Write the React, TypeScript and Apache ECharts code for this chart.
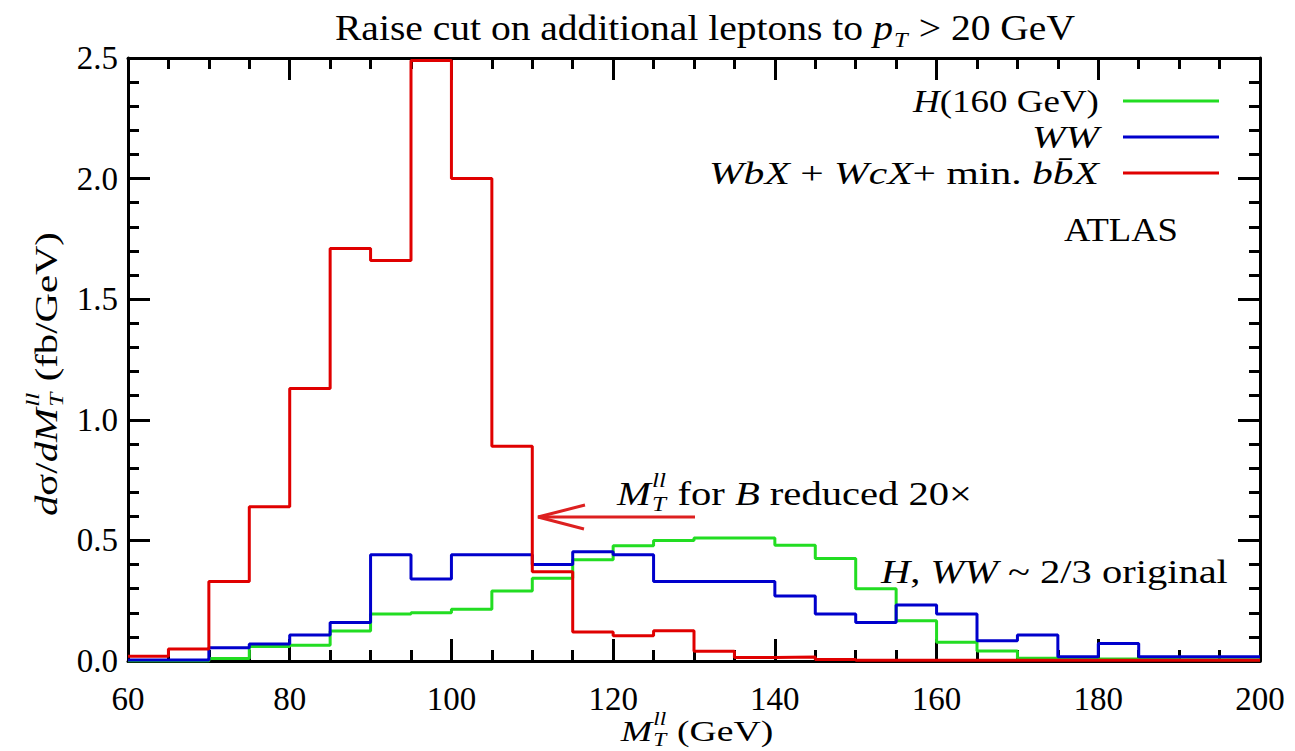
import React, { useEffect, useRef } from "react";
import * as echarts from "echarts";

// ---- data (bin lower edges, 5 GeV bins) ----
const binStarts = [60, 65, 70, 75, 80, 85, 90, 95, 100, 105, 110, 115, 120, 125, 130, 135, 140, 145, 150, 155, 160, 165, 170, 175, 180, 185, 190, 195];
const binEnd = 200;
const higgs160 = [0, 0, 0.01, 0.06, 0.065, 0.124, 0.195, 0.2, 0.215, 0.29, 0.343, 0.42, 0.478, 0.5, 0.51, 0.51, 0.48, 0.425, 0.3, 0.167, 0.078, 0.041, 0.011, 0.008, 0.008, 0.006, 0.005, 0.005];
const wwBkg = [0.004, 0.004, 0.055, 0.07, 0.108, 0.16, 0.44, 0.34, 0.44, 0.44, 0.4, 0.453, 0.44, 0.33, 0.33, 0.33, 0.27, 0.195, 0.16, 0.232, 0.195, 0.084, 0.108, 0.018, 0.073, 0.018, 0.018, 0.018];
const wbxBkg = [0.02, 0.05, 0.33, 0.64, 1.13, 1.71, 1.66, 2.49, 2.0, 0.89, 0.37, 0.12, 0.105, 0.125, 0.04, 0.015, 0.017, 0.006, 0.003, 0.003, 0.003, 0.003, 0.003, 0.003, 0.003, 0.003, 0.003, 0.003];
const seriesNames = ["H(160 GeV)", "WW", "WbX + WcX + min. bb̄X"];
const seriesColors = ["#22dd22", "#0000cc", "#e00000"];
const xMin = 60, xMax = 200, xStep = 20;
const yMin = 0, yMax = 2.5, yStep = 0.5;

const FONT = "Liberation Serif, DejaVu Serif, serif";

type Piece = { t: string; it?: boolean; sub?: string; sup?: string };

let measureCtx: CanvasRenderingContext2D | null = null;
function measure(text: string, size: number, italic: boolean) {
  if (!measureCtx) measureCtx = document.createElement("canvas").getContext("2d");
  measureCtx!.font = `${italic ? "italic " : ""}${size}px ${FONT}`;
  return measureCtx!.measureText(text).width;
}

function mathGroup(pieces: Piece[], size: number, x: number, y: number, anchor: "left" | "center" | "right", targetWidth?: number, rotation = 0, color = "#000") {
  const small = size * 0.62;
  const items: any[] = [];
  let cx = 0;
  for (const p of pieces) {
    if (p.t) {
      items.push({ type: "text", x: cx, y: 0, style: { text: p.t, fontSize: size, fontFamily: FONT, fontStyle: p.it ? "italic" : "normal", fill: color, align: "left", verticalAlign: "middle" } });
      cx += measure(p.t, size, !!p.it);
    }
    let adv = 0;
    if (p.sup) {
      items.push({ type: "text", x: cx + 1, y: -size * 0.42, style: { text: p.sup, fontSize: small, fontFamily: FONT, fontStyle: "italic", fill: color, align: "left", verticalAlign: "middle" } });
      adv = Math.max(adv, measure(p.sup, small, true) + 2);
    }
    if (p.sub) {
      items.push({ type: "text", x: cx + 1, y: size * 0.32, style: { text: p.sub, fontSize: small, fontFamily: FONT, fontStyle: "italic", fill: color, align: "left", verticalAlign: "middle" } });
      adv = Math.max(adv, measure(p.sub, small, true) + 2);
    }
    cx += adv;
  }
  const off = anchor === "left" ? 0 : anchor === "center" ? -cx / 2 : -cx;
  items.forEach((it) => (it.x += off));
  let sx = targetWidth ? targetWidth / cx : 1;
  sx = Math.max(0.85, Math.min(1.3, sx));
  return { type: "group", x, y, rotation, scaleX: sx, silent: true, children: items };
}

function stepData(vals: number[]) {
  const pts: [number, number][] = binStarts.map((b, i) => [b, vals[i]]);
  pts.push([binEnd, vals[vals.length - 1]]);
  return pts;
}

const axisCommon = {
  type: "value",
  splitLine: { show: false },
  axisLine: { show: true, onZero: false, lineStyle: { color: "#000", width: 3 } },
  axisTick: { show: true, inside: true, length: 22, lineStyle: { color: "#000", width: 3 } },
};

export default function App() {
  const ref = useRef<HTMLDivElement>(null);
  useEffect(() => {
    const chart = echarts.init(ref.current!, null, { renderer: "svg" });
    const xAxisBase = {
      ...axisCommon,
      min: xMin, max: xMax, interval: xStep,
      minorTick: { show: true, splitNumber: 4, length: 11, lineStyle: { color: "#000", width: 3 } },
    };
    const yAxisBase = {
      ...axisCommon,
      min: yMin, max: yMax, interval: yStep,
      minorTick: { show: true, splitNumber: 5, length: 11, lineStyle: { color: "#000", width: 3 } },
    };
    const lineY = [101, 137, 173];
    chart.setOption({
      animation: false,
      backgroundColor: "#fff",
      grid: { left: 128, right: 35, top: 58, bottom: 90 },
      xAxis: [
        { ...xAxisBase, position: "bottom", axisLabel: { margin: 21, fontSize: 33, fontFamily: FONT, color: "#000" } },
        { ...xAxisBase, position: "top", axisLabel: { show: false } },
      ],
      yAxis: [
        { ...yAxisBase, position: "left", axisLabel: { margin: 10, fontSize: 33, fontFamily: FONT, color: "#000", formatter: (v: number) => v.toFixed(1) } },
        { ...yAxisBase, position: "right", axisLabel: { show: false } },
      ],
      series: [
        { name: seriesNames[0], data: stepData(higgs160), color: seriesColors[0], z: 2 },
        { name: seriesNames[1], data: stepData(wwBkg), color: seriesColors[1], z: 3 },
        { name: seriesNames[2], data: stepData(wbxBkg), color: seriesColors[2], z: 4 },
      ].map((s) => ({
        type: "line",
        step: "end",
        showSymbol: false,
        xAxisIndex: 0,
        yAxisIndex: 0,
        name: s.name,
        data: s.data,
        z: s.z,
        lineStyle: { color: s.color, width: 3 },
        itemStyle: { color: s.color },
      })),
      graphic: [
        mathGroup([{ t: "Raise cut on additional leptons to " }, { t: "p", it: true, sub: "T" }, { t: " > 20 GeV" }], 35, 705, 28, "center", 740),
        // legend
        mathGroup([{ t: "H", it: true }, { t: "(160 GeV)" }], 32, 1099, lineY[0], "right", 186),
        mathGroup([{ t: "WW", it: true }], 32, 1099, lineY[1], "right", 67),
        mathGroup([{ t: "WbX", it: true }, { t: " + " }, { t: "WcX", it: true }, { t: "+ min. " }, { t: "bb̄X", it: true }], 32, 1099, lineY[2], "right", 405),
        ...seriesColors.map((c, i) => ({ type: "line", silent: true, shape: { x1: 1123, y1: lineY[i], x2: 1219, y2: lineY[i] }, style: { stroke: c, lineWidth: 3 } })),
        mathGroup([{ t: "ATLAS" }], 33, 1121, 230, "center", 114),
        // annotation
        mathGroup([{ t: "M", it: true, sub: "T", sup: "ll" }, { t: " for " }, { t: "B", it: true }, { t: " reduced 20×" }], 33, 617, 494, "left", 355),
        { type: "line", silent: true, shape: { x1: 695, y1: 517, x2: 538, y2: 517 }, style: { stroke: "#dd2020", lineWidth: 3 } },
        { type: "polyline", silent: true, shape: { points: [[585, 505], [538, 517], [584, 529]] }, style: { stroke: "#dd2020", lineWidth: 3, fill: null } },
        mathGroup([{ t: "H", it: true }, { t: ", " }, { t: "WW", it: true }, { t: " ~ 2/3 original" }], 33, 881, 572, "left", 347),
        // axis titles
        mathGroup([{ t: "M", it: true, sub: "T", sup: "ll" }, { t: " (GeV)" }], 29, 697, 731, "center", 155),
        mathGroup([{ t: "d", it: true }, { t: "σ/" }, { t: "dM", it: true, sub: "T", sup: "ll" }, { t: " (fb/GeV)" }], 32, 46, 374, "center", 284, Math.PI / 2),
      ],
    });
    return () => chart.dispose();
  }, []);
  return <div ref={ref} style={{ position: "fixed", left: 0, top: 0, width: 1295, height: 751, background: "#fff" }} />;
}
